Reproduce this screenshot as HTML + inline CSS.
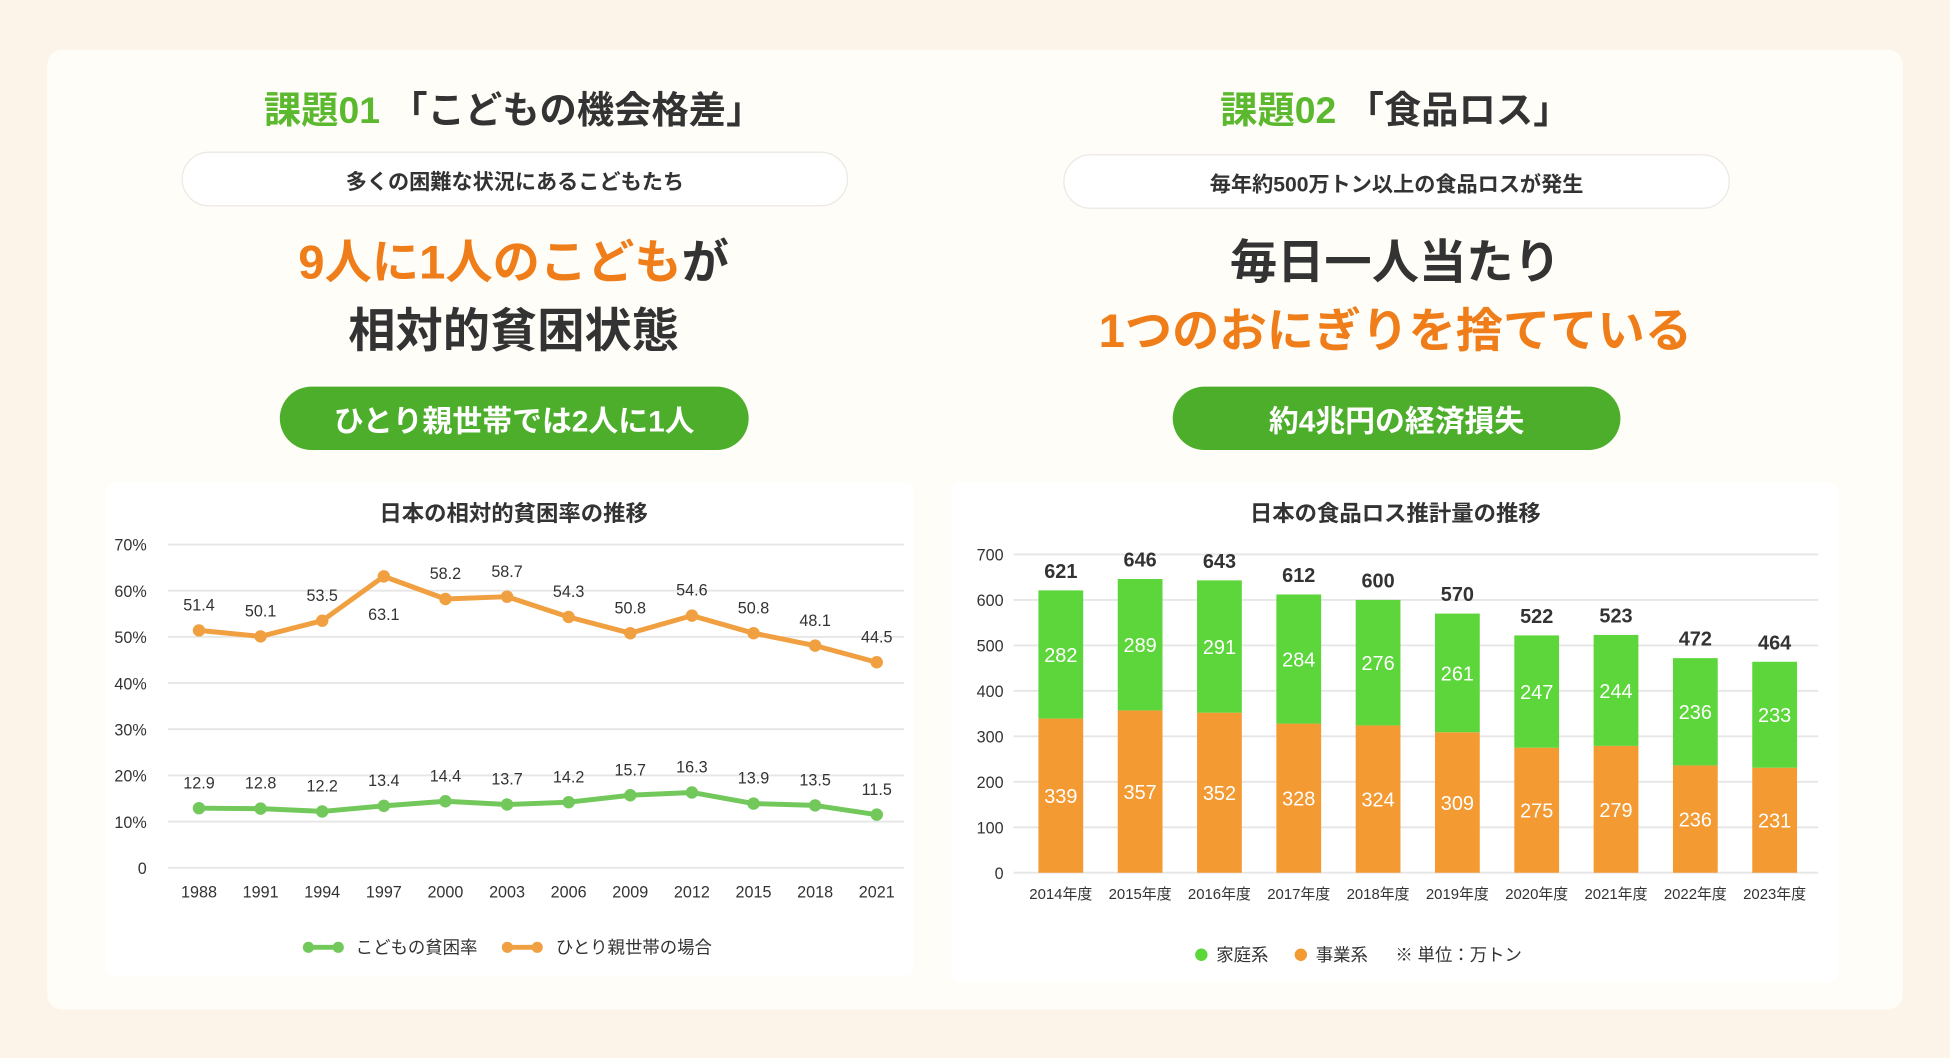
<!DOCTYPE html>
<html><head><meta charset="utf-8">
<style>
html,body{margin:0;padding:0;width:1950px;height:1058px;overflow:hidden;background:#fcf4e8;}
#wrap{position:absolute;left:0;top:0;width:1568px;height:851px;transform:scale(1.24362,1.2432);transform-origin:0 0;font-family:"Liberation Sans","Noto Sans CJK JP",sans-serif;}
.card{position:absolute;left:38px;top:40px;width:1492px;height:772px;background:#fffdf8;border-radius:12px;}
.t{position:absolute;text-align:center;font-weight:700;white-space:nowrap;}
.pill{position:absolute;background:#fff;border:1.5px solid #ece8e2;border-radius:24px;box-sizing:border-box;display:flex;align-items:center;justify-content:center;font-weight:700;font-size:17px;color:#333;}
.gbtn{position:absolute;background:#4cae2b;border-radius:26px;display:flex;align-items:center;justify-content:center;font-weight:700;font-size:24px;color:#fff;}
.panel{position:absolute;background:#fff;border-radius:8px;}
svg text{font-family:"Liberation Sans","Noto Sans CJK JP",sans-serif;}
</style></head><body>
<div id="wrap">
<div class="card"></div>

<div class="t" style="left:113px;width:600px;top:64px;font-size:30px;color:#333"><span style="color:#5cb82e">課題01</span> 「こどもの機会格差」</div>
<div class="pill" style="left:146px;top:122px;width:536px;height:44px">多くの困難な状況にあるこどもたち</div>
<div class="t" style="left:113px;width:600px;top:180px;font-size:38px;color:#ef7d1a">9人に1人のこども<span style="color:#333">が</span></div>
<div class="t" style="left:113px;width:600px;top:235px;font-size:38px;color:#333">相対的貧困状態</div>
<div class="gbtn" style="left:225px;top:311px;width:377px;height:51px">ひとり親世帯では2人に1人</div>

<div class="t" style="left:822px;width:600px;top:64px;font-size:30px;color:#333"><span style="color:#5cb82e">課題02</span> 「食品ロス」</div>
<div class="pill" style="left:855px;top:124px;width:536px;height:44px">毎年約500万トン以上の食品ロスが発生</div>
<div class="t" style="left:822px;width:600px;top:180px;font-size:38px;color:#333">毎日一人当たり</div>
<div class="t" style="left:822px;width:600px;top:235px;font-size:38px;color:#ef7d1a">1つのおにぎりを捨てている</div>
<div class="gbtn" style="left:943px;top:311px;width:360px;height:51px">約4兆円の経済損失</div>

<div class="panel" style="left:85px;top:388px;width:650px;height:397px"></div>
<div class="panel" style="left:765px;top:388px;width:713px;height:402px"></div>

<svg id="chart" width="1568" height="851" style="position:absolute;left:0;top:0"></svg>
</div>
<script>
const years = ["1988","1991","1994","1997","2000","2003","2006","2009","2012","2015","2018","2021"];
const childRate = [12.9,12.8,12.2,13.4,14.4,13.7,14.2,15.7,16.3,13.9,13.5,11.5];
const singleRate = [51.4,50.1,53.5,63.1,58.2,58.7,54.3,50.8,54.6,50.8,48.1,44.5];
const lineTicks = ["0","10%","20%","30%","40%","50%","60%","70%"];

const fiscalYears = ["2014年度","2015年度","2016年度","2017年度","2018年度","2019年度","2020年度","2021年度","2022年度","2023年度"];
const household = [282,289,291,284,276,261,247,244,236,233];
const business = [339,357,352,328,324,309,275,279,236,231];
const totals = [621,646,643,612,600,570,522,523,472,464];
const barTicks = ["0","100","200","300","400","500","600","700"];

const svg = document.getElementById('chart');
const NS = 'http://www.w3.org/2000/svg';
function mk(tag, attrs, txt){const e=document.createElementNS(NS,tag);for(const k in attrs)e.setAttribute(k,attrs[k]);if(txt!==undefined)e.textContent=txt;svg.appendChild(e);return e;}

// line chart
const lx = i => 160 + i*(705-160)/(years.length-1);
const ly = v => 698 - v*(698-438)/70;
let e;
e=mk('text',{x:413,y:419,'text-anchor':'middle','font-size':18,'font-weight':700,fill:'#333'},'日本の相対的貧困率の推移');

lineTicks.forEach((t,i)=>{
  e=mk('line',{x1:135,x2:727,y1:ly(i*10),y2:ly(i*10),stroke:'#e6e6e6','stroke-width':1.5});
  
  e=mk('text',{x:118,y:ly(i*10)+5,'text-anchor':'end','font-size':13,fill:'#333'},t);
  
});
years.forEach((y,i)=>{
  e=mk('text',{x:lx(i),y:722,'text-anchor':'middle','font-size':13,fill:'#333'},y);
  
});
function series(vals,color,name){
  e=mk('polyline',{points:vals.map((v,i)=>lx(i)+','+ly(v)).join(' '),fill:'none',stroke:color,'stroke-width':4,'stroke-linejoin':'round'});
  
  vals.forEach((v,i)=>{
    e=mk('circle',{cx:lx(i),cy:ly(v),r:5,fill:color});
    
    e=mk('text',{x:lx(i),y:ly(v)-(v===63.1?-35:16),'text-anchor':'middle','font-size':13,fill:'#333'},v.toFixed(1));
    
  });
}
series(singleRate,'#f0a040','single-parent');
series(childRate,'#72c85a','child');
// legend
e=mk('line',{x1:246,x2:274,y1:762,y2:762,stroke:'#72c85a','stroke-width':4});

mk('circle',{cx:248,cy:762,r:4.5,fill:'#72c85a'});mk('circle',{cx:272,cy:762,r:4.5,fill:'#72c85a'});
e=mk('text',{x:286,y:767,'font-size':14,fill:'#333'},'こどもの貧困率');

e=mk('line',{x1:406,x2:434,y1:762,y2:762,stroke:'#f0a040','stroke-width':4});

mk('circle',{cx:408,cy:762,r:4.5,fill:'#f0a040'});mk('circle',{cx:432,cy:762,r:4.5,fill:'#f0a040'});
e=mk('text',{x:447,y:767,'font-size':14,fill:'#333'},'ひとり親世帯の場合');


// bar chart
const bx = i => 853 + i*(1427-853)/(fiscalYears.length-1);
const by = v => 702 - v*(702-446)/700;
const bw = 36;
e=mk('text',{x:1122,y:419,'text-anchor':'middle','font-size':18,'font-weight':700,fill:'#333'},'日本の食品ロス推計量の推移');

barTicks.forEach((t,i)=>{
  e=mk('line',{x1:815,x2:1462,y1:by(i*100),y2:by(i*100),stroke:'#e6e6e6','stroke-width':1.5});
  
  e=mk('text',{x:807,y:by(i*100)+5,'text-anchor':'end','font-size':13,fill:'#333'},t);
  
});
fiscalYears.forEach((fy,i)=>{
  const b=business[i], h=household[i];
  e=mk('rect',{x:bx(i)-bw/2,y:by(b),width:bw,height:by(0)-by(b),fill:'#f39a33'});
  
  e=mk('rect',{x:bx(i)-bw/2,y:by(b+h),width:bw,height:by(b)-by(b+h),fill:'#5cd63a'});
  
  e=mk('text',{x:bx(i),y:(by(0)+by(b))/2+6,'text-anchor':'middle','font-size':16,fill:'#fff'},b);
  
  e=mk('text',{x:bx(i),y:(by(b)+by(b+h))/2+6,'text-anchor':'middle','font-size':16,fill:'#fff'},h);
  
  e=mk('text',{x:bx(i),y:by(b+h)-10,'text-anchor':'middle','font-size':16,'font-weight':700,fill:'#333'},totals[i]);
  
  e=mk('text',{x:bx(i),y:723,'text-anchor':'middle','font-size':12,fill:'#333'},fy);
  
});
e=mk('circle',{cx:966,cy:768,r:5,fill:'#5cd63a'});

e=mk('text',{x:978,y:773,'font-size':14,fill:'#333'},'家庭系');

e=mk('circle',{cx:1046,cy:768,r:5,fill:'#f39a33'});

e=mk('text',{x:1058,y:773,'font-size':14,fill:'#333'},'事業系');

e=mk('text',{x:1122,y:773,'font-size':14,fill:'#333'},'※ 単位：万トン');

</script>
</body></html>
